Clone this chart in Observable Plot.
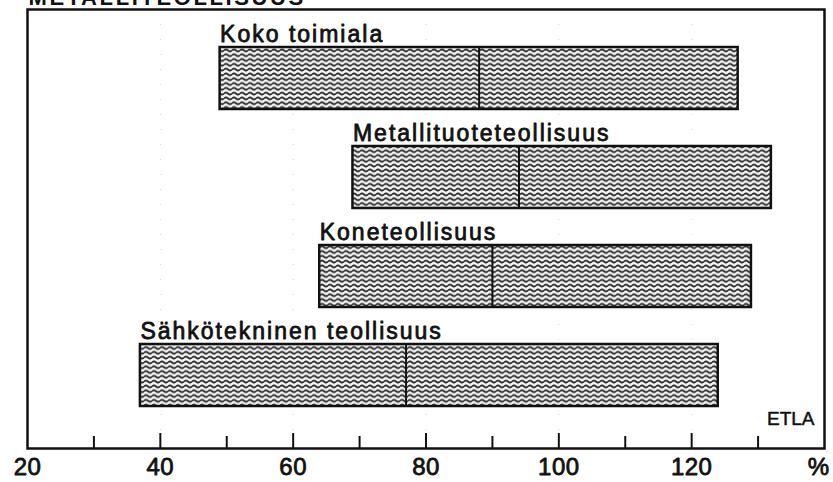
<!DOCTYPE html>
<html>
<head>
<meta charset="utf-8">
<script src="https://cdn.jsdelivr.net/npm/d3@7"></script>
<script src="https://cdn.jsdelivr.net/npm/@observablehq/plot@0.6"></script>
<style>
  html, body { margin: 0; padding: 0; background: #fff; }
  #chart svg { display: block; overflow: visible; }
</style>
</head>
<body>
<div id="chart"></div>
<script>
const title = "METALLITEOLLISUUS";
const categories = ["Koko toimiala", "Metallituoteteollisuus", "Koneteollisuus", "Sähkötekninen teollisuus"];
const lows = [49, 69, 64, 37];
const highs = [127, 132, 129, 124];
const mids = [88, 94, 90, 77];
const majorTicks = [40, 60, 80, 100, 120];
const minorTicks = [30, 50, 70, 90, 110, 130];
const tickValues = [20, 40, 60, 80, 100, 120, 140];
const tickLabels = ["20", "40", "60", "80", "100", "120", "%"];
const source = "ETLA";

const rows = categories.map((c, i) => ({cat: c, low: lows[i], high: highs[i], mid: mids[i]}));
const labels = tickValues.map((v, i) => ({v, label: tickLabels[i]}));

const W = 833, H = 482;
const font = "'Liberation Sans', Arial, Helvetica, sans-serif";

const svg = Plot.plot({
  width: W,
  height: H,
  marginLeft: 27,
  marginRight: 9,
  marginTop: 9,
  marginBottom: 34,
  style: {fontFamily: font, background: "#fff", color: "#111"},
  x: {domain: [20, 140], axis: null},
  y: {domain: categories, range: [28, 424.5], paddingInner: 0.374, paddingOuter: 0.187, axis: null},
  marks: [
    Plot.ruleX(majorTicks, {stroke: "#bbb", strokeWidth: 1, strokeDasharray: "1,14", strokeOpacity: 0.6}),
    Plot.ruleX(majorTicks, {stroke: "#111", strokeWidth: 2, insetTop: 424}),
    Plot.ruleX(minorTicks, {stroke: "#111", strokeWidth: 2, insetTop: 427}),
    Plot.barX(rows, {x1: "low", x2: "high", y: "cat", fill: "url(#wave)", stroke: "#111", strokeWidth: 2.5}),
    Plot.tickX(rows, {x: "mid", y: "cat", stroke: "#111", strokeWidth: 2}),
    Plot.text(rows, {x: "low", y: "cat", text: "cat", textAnchor: "start", lineAnchor: "bottom", dy: -36.5,
      fontSize: 23, fill: "#111", stroke: "#111", strokeWidth: 0.8}),
    Plot.text(labels, {x: "v", text: "label", frameAnchor: "bottom", lineAnchor: "middle", dy: 19,
      fontSize: 24, fill: "#111", stroke: "#111", strokeWidth: 0.8}),
    Plot.text([source], {frameAnchor: "bottom-right", textAnchor: "end", lineAnchor: "middle", dx: -10, dy: -30,
      fontSize: 19, fill: "#111", stroke: "#111", strokeWidth: 0.5}),
    Plot.text([title], {frameAnchor: "top-left", textAnchor: "start", lineAnchor: "bottom", dx: 1, dy: -5,
      fontSize: 22, fontWeight: "bold", fill: "#111"}),
    Plot.frame({stroke: "#111", strokeWidth: 2.5})
  ]
});

const s = d3.select(svg);
const defs = s.insert("defs", ":first-child");
const pat = defs.append("pattern")
  .attr("id", "wave")
  .attr("patternUnits", "userSpaceOnUse")
  .attr("width", 8)
  .attr("height", 4.8);
pat.append("rect").attr("width", 8).attr("height", 4.8).attr("fill", "#f2f2f2");
pat.append("path")
  .attr("d", "M0 2.4 Q2 0.5 4 2.4 T8 2.4")
  .attr("fill", "none")
  .attr("stroke", "#2e2e2e")
  .attr("stroke-width", 1.7);

s.selectAll("text").each(function () {
  const t = this.textContent;
  if (categories.includes(t)) this.style.letterSpacing = "2px";
  else if (t === title) this.style.letterSpacing = "2.6px";
  else if (t === "%") { this.setAttribute("dx", -6); }
  else if (tickLabels.includes(t)) this.style.letterSpacing = "0.5px";
});

document.getElementById("chart").appendChild(svg);
</script>
</body>
</html>
